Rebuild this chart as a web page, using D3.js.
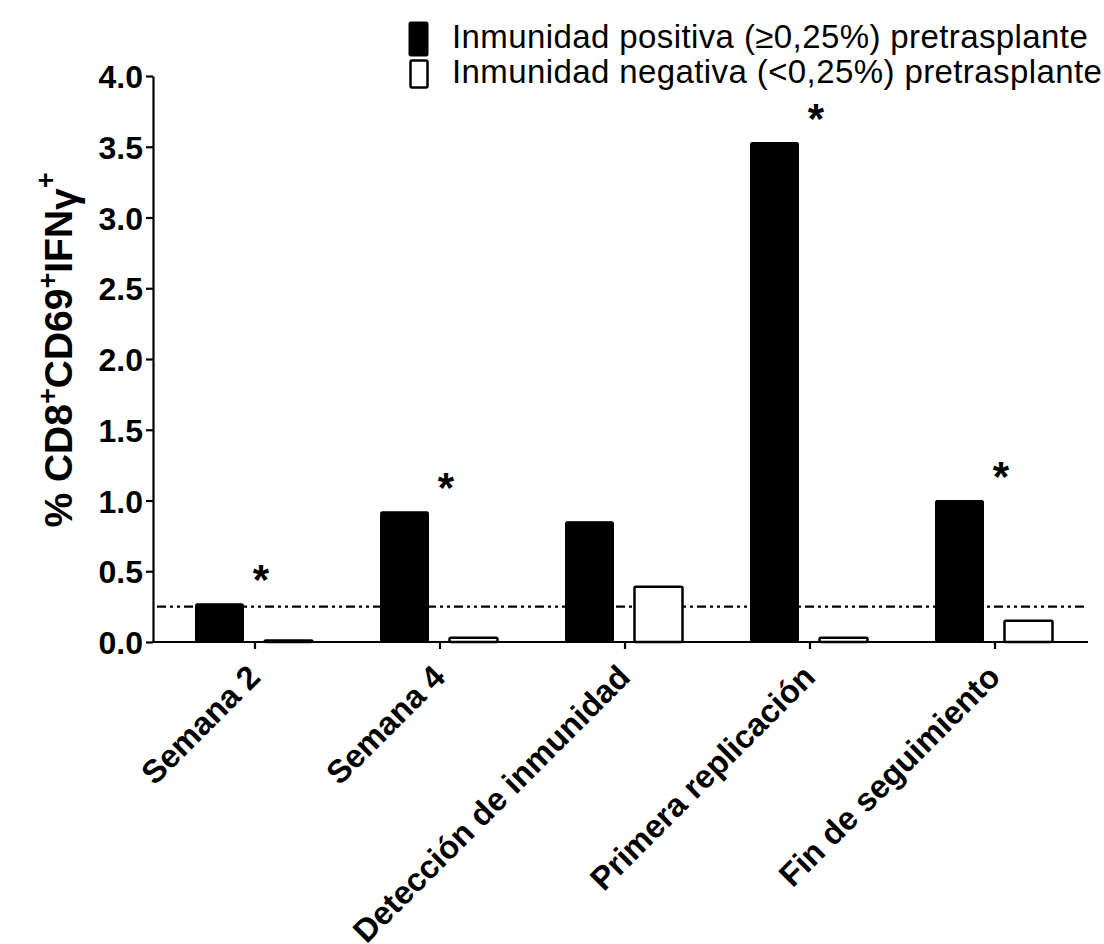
<!DOCTYPE html>
<html>
<head>
<meta charset="utf-8">
<script src="https://cdn.jsdelivr.net/npm/d3@7"></script>
<style>
  html, body { margin: 0; padding: 0; background: #fff; }
  svg { display: block; font-family: "Liberation Sans", Arial, Helvetica, sans-serif; }
</style>
</head>
<body>
<svg id="chart" width="1104" height="944"></svg>
<script>
// Time points of the follow-up
const categories = ["Semana 2", "Semana 4", "Detección de inmunidad", "Primera replicación", "Fin de seguimiento"];
// % CD8+CD69+IFNγ+ cells per group
const positiveValues = [0.27, 0.92, 0.85, 3.53, 1.00];
const negativeValues = [0.01, 0.03, 0.39, 0.03, 0.15];
// Significant difference between groups (marked with *)
const significant = [true, true, false, true, true];
const seriesNames = ["Inmunidad positiva (≥0,25%) pretrasplante", "Inmunidad negativa (<0,25%) pretrasplante"];
const yTicks = [0, 0.5, 1.0, 1.5, 2.0, 2.5, 3.0, 3.5, 4.0];
const threshold = 0.25;

const svg = d3.select("#chart");
const axisX = 153, axisEnd = 1088, yTop = 76, yBase = 642;

const y = d3.scaleLinear().domain([0, 4]).range([yBase, yTop]);
const x = d3.scaleBand().domain(categories).range([162.5, 1087.5]).padding(0);
const inner = d3.scaleBand().domain(["pos", "neg"]).range([-59.5, 57.5]).paddingInner(0.304);
const cx = c => x(c) + x.bandwidth() / 2;

const rows = categories.map((c, i) => ({ cat: c, pos: positiveValues[i], neg: negativeValues[i], sig: significant[i] }));

// Threshold line (dash-dot-dot), drawn under the bars
svg.append("line")
  .attr("x1", axisX + 4).attr("x2", axisEnd)
  .attr("y1", y(threshold)).attr("y2", y(threshold))
  .attr("stroke", "#000").attr("stroke-width", 2.2)
  .attr("stroke-dasharray", "9,4,3,4,3,4");

// Bars
const g = svg.append("g");
g.selectAll("rect.pos").data(rows).join("rect")
  .attr("class", "pos")
  .attr("x", d => cx(d.cat) + inner("pos"))
  .attr("width", inner.bandwidth())
  .attr("y", d => y(d.pos))
  .attr("height", d => y(0) - y(d.pos))
  .attr("rx", 1.5)
  .attr("fill", "#000").attr("stroke", "#000").attr("stroke-width", 1);

g.selectAll("rect.neg").data(rows).join("rect")
  .attr("class", "neg")
  .attr("x", d => cx(d.cat) + inner("neg"))
  .attr("width", inner.bandwidth())
  .attr("y", d => y(d.neg))
  .attr("height", d => y(0) - y(d.neg))
  .attr("rx", 1.5)
  .attr("fill", "#fff").attr("stroke", "#000").attr("stroke-width", 2.5);

// Significance asterisks
svg.selectAll("text.star").data(rows.filter(d => d.sig)).join("text")
  .attr("class", "star")
  .attr("x", d => cx(d.cat) + 6)
  .attr("y", d => y(d.pos) - 10)
  .attr("text-anchor", "middle")
  .attr("font-size", 42).attr("font-weight", "bold")
  .text("*");

// Y axis
const yAxis = svg.append("g")
  .attr("transform", `translate(${axisX},0)`)
  .call(d3.axisLeft(y).tickValues(yTicks).tickFormat(d3.format(".1f")).tickSize(7).tickSizeOuter(0).tickPadding(3));
yAxis.select(".domain").attr("stroke-width", 2.2);
yAxis.selectAll(".tick line").attr("stroke-width", 2.2);
yAxis.selectAll(".tick text")
  .attr("font-family", "Liberation Sans, Arial, sans-serif")
  .attr("font-size", 32).attr("font-weight", "bold").attr("fill", "#000")
  .attr("dy", "0.36em");

// X axis: baseline from the y axis to the end, ticks at category centres
svg.append("line")
  .attr("x1", axisX - 1).attr("x2", axisEnd)
  .attr("y1", yBase).attr("y2", yBase)
  .attr("stroke", "#000").attr("stroke-width", 2.2);
const xAxis = svg.append("g")
  .attr("transform", `translate(0,${yBase})`)
  .call(d3.axisBottom(x).tickSize(7).tickSizeOuter(0).tickFormat(""));
xAxis.select(".domain").remove();
xAxis.selectAll(".tick line").attr("stroke-width", 2.2);

// Rotated category labels
svg.selectAll("text.cat").data(categories).join("text")
  .attr("class", "cat")
  .attr("transform", c => `translate(${cx(c) + 7},${yBase + 37}) rotate(-45)`)
  .attr("text-anchor", "end")
  .attr("font-size", 32.5).attr("font-weight", "bold")
  .text(c => c);

// Y axis title
const yTitle = svg.append("text")
  .attr("transform", "translate(72,350) rotate(-90)")
  .attr("text-anchor", "middle")
  .attr("font-size", 39).attr("font-weight", "bold");
yTitle.append("tspan").text("% CD8");
yTitle.append("tspan").attr("dy", -15).attr("font-size", 27).text("+");
yTitle.append("tspan").attr("dy", 15).text("CD69");
yTitle.append("tspan").attr("dy", -15).attr("font-size", 27).text("+");
yTitle.append("tspan").attr("dy", 15).text("IFN");
yTitle.append("tspan").attr("dy", 5).text("γ");
yTitle.append("tspan").attr("dy", -22).attr("font-size", 27).text("+");

// Legend
const legend = svg.append("g");
legend.append("rect").attr("x", 409).attr("y", 22).attr("width", 19).attr("height", 34)
  .attr("rx", 1.5).attr("fill", "#000").attr("stroke", "#000");
legend.append("rect").attr("x", 410.5).attr("y", 60.5).attr("width", 17).attr("height", 27)
  .attr("rx", 1.5).attr("fill", "#fff").attr("stroke", "#000").attr("stroke-width", 2.5);
legend.selectAll("text").data(seriesNames).join("text")
  .attr("x", 452)
  .attr("y", (d, i) => 48 + i * 35)
  .attr("font-size", 33)
  .attr("letter-spacing", 0.4)
  .text(d => d);
</script>
</body>
</html>
